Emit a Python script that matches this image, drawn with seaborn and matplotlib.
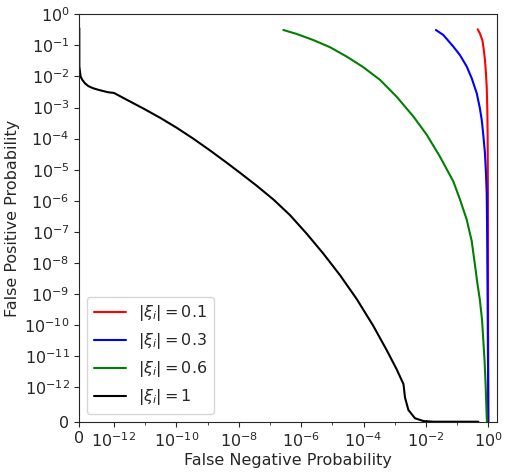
import numpy as np
import pandas as pd
import matplotlib
matplotlib.use("Agg")
import matplotlib.pyplot as plt
from matplotlib.ticker import FixedLocator, FuncFormatter
import seaborn as sns

# -----------------------------
# Data
# -----------------------------
labels = [r"$|\xi_i| = 0.1$", r"$|\xi_i| = 0.3$", r"$|\xi_i| = 0.6$", r"$|\xi_i| = 1$"]
colors = ["red", "blue", "green", "black"]

fn_01 = [0.457, 0.537, 0.646, 0.708, 0.783, 0.843, 0.891, 0.933, 0.955,
         0.977, 0.989, 0.996, 1.0]
fp_01 = [0.331, 0.245, 0.148, 0.0813, 0.0339, 0.0126, 4.68e-3, 8.32e-4, 1.15e-4,
         1e-6, 1e-9, 1e-12, 0.0]

fn_03 = [0.0209, 0.0363, 0.0759, 0.123, 0.204, 0.295, 0.427, 0.537, 0.617,
         0.692, 0.783, 0.843, 0.891, 0.912, 0.95, 0.977, 0.993, 1.0]
fp_03 = [0.313, 0.216, 0.0912, 0.0490, 0.0209, 8.71e-3, 2.88e-3, 9.55e-4, 3.98e-4,
         1.32e-4, 3.39e-5, 7.76e-6, 1.74e-6, 2.45e-7, 1e-9, 1e-11, 1e-12, 0.0]

fn_06 = [2.69e-7, 7.24e-7, 2.45e-6, 8.51e-6, 2.88e-5, 9.77e-5, 3.39e-4, 1.15e-3,
         3.98e-3, 0.0107, 0.0282, 0.0759, 0.123, 0.204, 0.295, 0.380, 0.447,
         0.537, 0.631, 0.692, 0.767, 0.826, 0.891, 0.91]
fp_06 = [0.313, 0.233, 0.149, 0.0871, 0.0437, 0.0200, 7.76e-3, 2.24e-3,
         5.13e-4, 1.32e-4, 2.63e-5, 4.17e-6, 1.12e-6, 2.45e-7, 5.01e-8, 7.59e-9, 2.24e-9,
         6.46e-10, 1.48e-10, 3.39e-11, 6.03e-12, 1.07e-12, 1.5e-13, 0.0]

fn_10 = [0.0, 1e-15, 2e-14, 4e-14, 8.7e-14, 1.64e-13, 2.6e-13, 4.0e-13, 5.5e-13,
         6.9e-13, 8.4e-13, 1e-12, 2.57e-12, 8.71e-12, 3.02e-11, 1.02e-10, 3.47e-10,
         1.20e-9, 4.17e-9, 1.10e-8, 3.80e-8, 1.29e-7, 4.37e-7, 1.51e-6, 5.13e-6,
         1.78e-5, 6.03e-5, 2.04e-4, 5.50e-4, 1.15e-3, 1.91e-3,
         2.14e-3, 2.75e-3, 4.47e-3, 8.32e-3, 0.0174, 0.48]
fp_10 = [0.36, 0.021, 0.0141, 9.77e-3, 7.76e-3, 6.03e-3, 4.90e-3, 4.17e-3, 3.72e-3,
         3.39e-3, 3.09e-3, 2.95e-3, 1.78e-3, 9.33e-4, 4.68e-4, 2.24e-4, 1.0e-4,
         4.17e-5, 1.66e-5, 7.94e-6, 3.02e-6, 1.10e-6, 3.47e-7, 8.71e-8, 2.0e-8,
         3.98e-9, 6.92e-10, 9.55e-11, 1.58e-11, 3.80e-12, 1.26e-12,
         7.0e-13, 3.4e-13, 1.0e-13, 2e-14, 0.0, 0.0]

series_x = [fn_01, fn_03, fn_06, fn_10]
series_y = [fp_01, fp_03, fp_06, fp_10]

x_major = [0, 1e-12, 1e-10, 1e-8, 1e-6, 1e-4, 1e-2, 1]
x_minor = [1e-11, 1e-9, 1e-7, 1e-5, 1e-3, 1e-1]
y_major = [0] + [10.0 ** -k for k in range(12, -1, -1)]

FS = 11.5


def sci_label(v, pos):
    if v == 0:
        return "0"
    return r"$\mathregular{10^{%d}}$" % int(round(np.log10(v)))


def make_plot():
    sns.set_style("ticks")
    plt.rcParams["xtick.major.size"] = 3.5
    plt.rcParams["ytick.major.size"] = 3.5
    plt.rcParams["xtick.minor.size"] = 2

    fig = plt.figure(figsize=(5.09, 4.74), dpi=100)
    ax = fig.add_axes([0.1558, 0.1103, 0.820, 0.8595])

    for xs, ys, lab, col in zip(series_x, series_y, labels, colors):
        df = pd.DataFrame({"fn": xs, "fp": ys})
        sns.lineplot(data=df, x="fn", y="fp", sort=False, estimator=None,
                     color=col, label=lab, linewidth=1.5, ax=ax)

    ax.set_xscale("symlog", linthresh=1e-12, linscale=1)
    ax.set_yscale("symlog", linthresh=1e-12, linscale=1)
    ax.set_xlim(0, 1.86)
    ax.set_ylim(0, 1)

    ax.xaxis.set_major_locator(FixedLocator(x_major))
    ax.xaxis.set_minor_locator(FixedLocator(x_minor))
    ax.yaxis.set_major_locator(FixedLocator(y_major))
    ax.yaxis.set_minor_locator(FixedLocator([]))
    ax.xaxis.set_major_formatter(FuncFormatter(sci_label))
    ax.yaxis.set_major_formatter(FuncFormatter(sci_label))
    ax.tick_params(labelsize=FS)

    ax.set_xlabel("False Negative Probability", fontsize=FS, labelpad=2)
    ax.set_ylabel("False Positive Probability", fontsize=FS, labelpad=3)
    ax.legend(loc="lower left", fontsize=FS)

    fig.savefig("out.png", dpi=100)
    plt.close(fig)


if __name__ == "__main__":
    make_plot()
